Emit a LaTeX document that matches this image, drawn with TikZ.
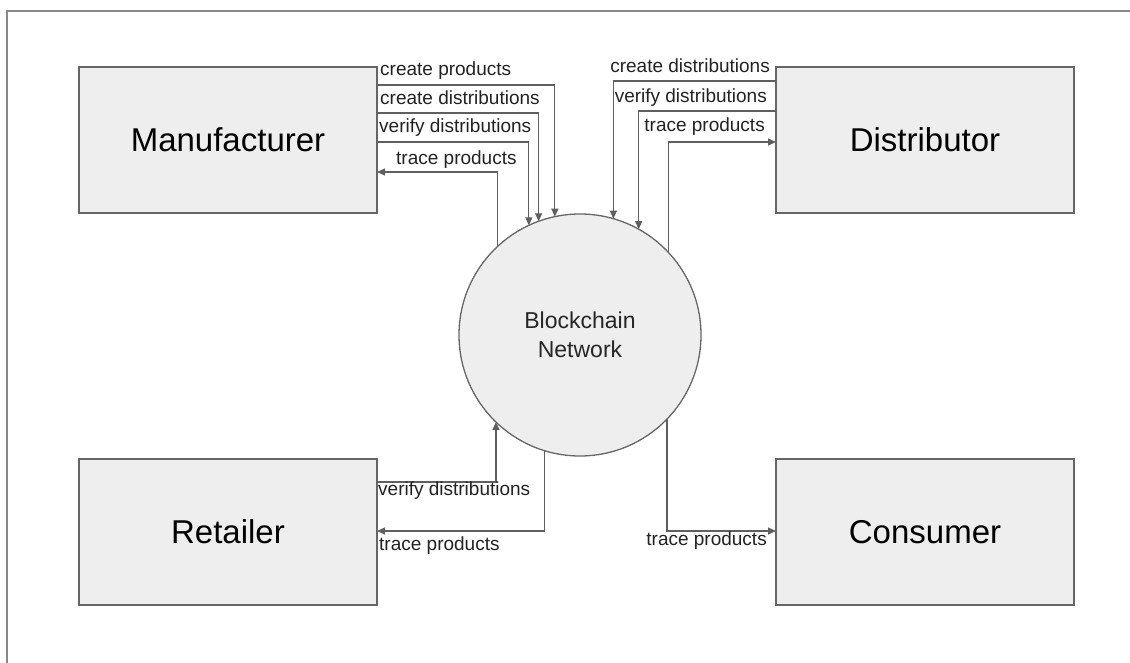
\documentclass[tikz,border=0pt]{standalone}
\usepackage{fontspec}
\setmainfont{Liberation Sans}
\usetikzlibrary{arrows.meta}
\definecolor{boxfill}{HTML}{EEEEEE}
\definecolor{boxline}{HTML}{666666}
\definecolor{connc}{HTML}{5F5F5F}
\definecolor{framec}{HTML}{888888}
\definecolor{labelc}{HTML}{222222}
\begin{document}
\begin{tikzpicture}[x=1pt,y=-1pt,
  box/.style={draw=boxline,fill=boxfill,line width=1.4pt,minimum width=298pt,minimum height=146pt,
    inner sep=0pt,outer sep=0pt,font=\fontsize{33}{40}\selectfont,text=black},
  hub/.style={circle,draw=boxline,fill=boxfill,line width=1.3pt,minimum size=242pt,inner sep=0pt,outer sep=0pt,
    align=center,font=\fontsize{23}{29}\selectfont,text=black!85},
  conn/.style={draw=connc,line width=1.2pt,-{Triangle[length=8pt,width=7pt]}},
  lbl/.style={font=\fontsize{19}{22}\selectfont,text=labelc,inner sep=0pt}]
\useasboundingbox (0,0) rectangle (1130,663);
\draw[framec,line width=1.4pt] (7,663) -- (7,11) -- (1130,11);

\node[box] (mfr) at (228,140) {Manufacturer};
\node[box] (dst) at (925,140) {Distributor};
\node[box] (ret) at (228,532) {Retailer};
\node[box] (con) at (925,532) {Consumer};
\node[hub] (bc) at (580,335) {Blockchain\\Network};

% Manufacturer
\draw[conn] ([yshift=-18pt]mfr.north east) -| (bc.102.89);
\draw[conn] ([yshift=-46pt]mfr.north east) -| (bc.110.31);
\draw[conn] ([yshift=-75pt]mfr.north east) -| (bc.115.45);
\draw[conn] (bc.133.97) |- ([yshift=-105pt]mfr.north east);
\node[lbl,anchor=base west] (l1) at (380,75.7) {create products};
\node[lbl,anchor=base west] (l2) at (380,104.3) {create distributions};
\node[lbl,anchor=base west] (l3) at (379,133) {verify distributions};
\node[lbl,anchor=base west] (l4) at (396,165) {trace products};

% Distributor
\draw[conn] ([yshift=-14pt]dst.north west) -| (bc.74.66);
\draw[conn] ([yshift=-44pt]dst.north west) -| (bc.61.36);
\draw[conn] (bc.43.34) |- ([yshift=-75pt]dst.north west);
\node[lbl,anchor=base east] (l5) at (770,73) {create distributions};
\node[lbl,anchor=base east] (l6) at (767,103) {verify distributions};
\node[lbl,anchor=base east] (l7) at (765,132) {trace products};

% Retailer
\draw[conn] ([yshift=-23pt]ret.north east) -| (bc.226.03);
\draw[conn] (bc.253.18) |- ([yshift=-72pt]ret.north east);
\node[lbl,anchor=base west] (l8) at (378,495) {verify distributions};
\node[lbl,anchor=base west] (l9) at (379,550) {trace products};

% Consumer
\draw[conn] (bc.316.66) |- ([yshift=-72pt]con.north west);
\node[lbl,anchor=base east] (l10) at (767,545.7) {trace products};
\end{tikzpicture}
\end{document}
